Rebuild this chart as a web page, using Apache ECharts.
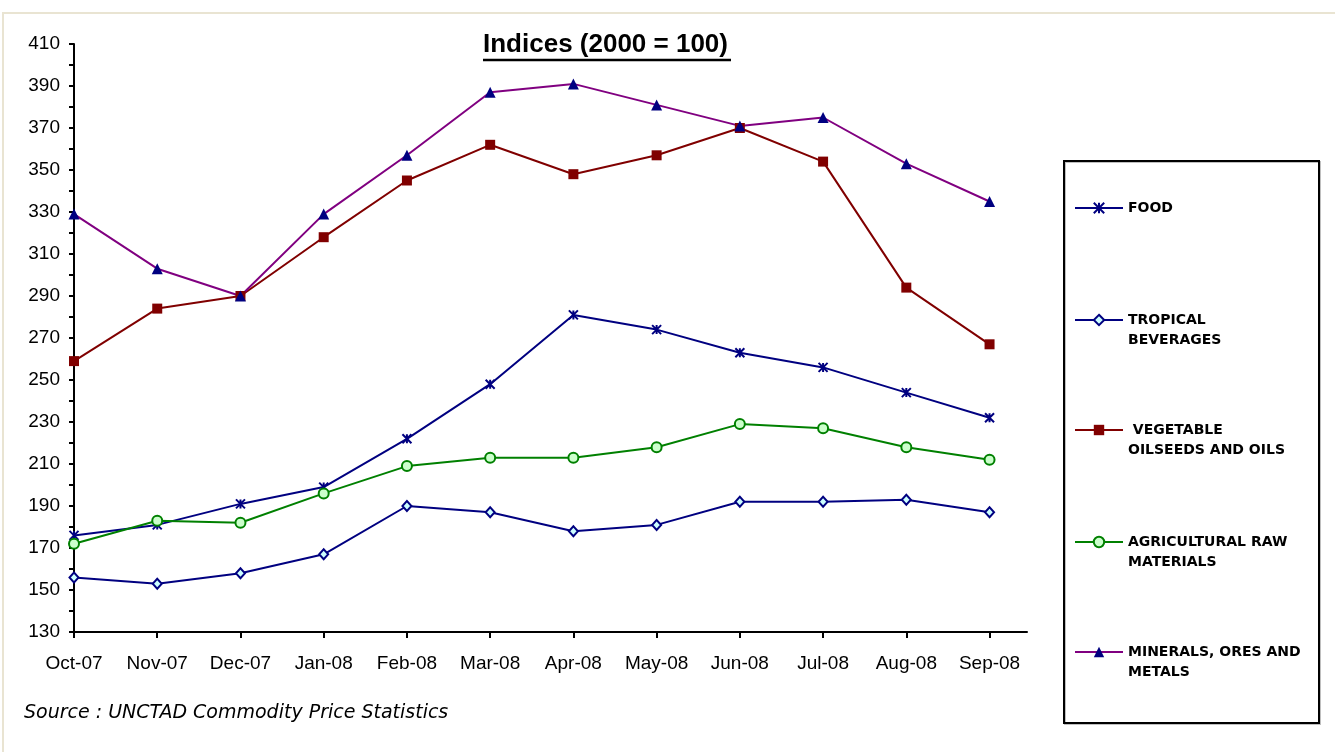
<!DOCTYPE html>
<html>
<head>
<meta charset="utf-8">
<title>Indices (2000 = 100)</title>
<script src="https://cdn.jsdelivr.net/npm/echarts@6/dist/echarts.min.js"></script>
<style>
  html, body { margin: 0; padding: 0; background: #fff; }
  #chart { width: 1335px; height: 756px; }
</style>
</head>
<body>
<div id="chart"></div>
<script>
// months on the x axis
const months = ['Oct-07', 'Nov-07', 'Dec-07', 'Jan-08', 'Feb-08', 'Mar-08',
  'Apr-08', 'May-08', 'Jun-08', 'Jul-08', 'Aug-08', 'Sep-08']

// index values
const food = [176, 181, 191, 199, 222, 248, 281, 274, 263, 256, 244, 232]
const tropical = [156, 153, 158, 167, 190, 187, 178, 181, 192, 192, 193, 187]
const vegOils = [259, 284, 290, 318, 345, 362, 348, 357, 370, 354, 294, 267]
const agriRaw = [172, 183, 182, 196, 209, 213, 213, 218, 229, 227, 218, 212]
const minerals = [329, 303, 290, 329, 357, 387, 391, 381, 371, 375, 353, 335]

const yTicks = [130, 150, 170, 190, 210, 230, 250, 270, 290, 310, 330, 350, 370, 390, 410]

const names = ['FOOD', 'TROPICAL\nBEVERAGES', ' VEGETABLE\nOILSEEDS AND OILS',
  'AGRICULTURAL RAW\nMATERIALS', 'MINERALS, ORES AND\nMETALS']

const toPoints = arr => arr.map((v, i) => [i, v])
const idx = months.map((m, i) => i)

const chart = echarts.init(document.getElementById('chart'))

// one legend per item so each can sit at its own height in the box
const legendBase = {
  orient: 'vertical',
  left: 1074,
  padding: 0,
  itemWidth: 48,
  itemHeight: 13,
  selectedMode: false,
  // extra blank line first so the icon lines up with the first text line
  formatter: name => (name.indexOf('\n') >= 0 ? '\n' + name : name),
  textStyle: {
    fontFamily: 'DejaVu Sans',
    fontWeight: 'bold',
    fontSize: 14,
    lineHeight: 20,
    color: '#000'
  }
}

const option = {
  animation: false,
  backgroundColor: '#fff',
  title: {
    text: 'Indices (2000 = 100)',
    left: 483,
    top: 32,
    padding: 0,
    textStyle: {
      fontFamily: 'Liberation Sans',
      fontWeight: 'bold',
      fontSize: 26,
      color: '#000'
    }
  },
  legend: [
    Object.assign({}, legendBase, { data: [names[0]], top: 198 }),
    Object.assign({}, legendBase, { data: [names[1]], top: 290 }),
    Object.assign({}, legendBase, { data: [names[2]], top: 400 }),
    Object.assign({}, legendBase, { data: [names[3]], top: 512 }),
    Object.assign({}, legendBase, { data: [names[4]], top: 622 })
  ],
  grid: {
    left: 74,
    right: 308,
    top: 44,
    bottom: 124
  },
  xAxis: {
    type: 'value',
    min: 0,
    max: 11.45,
    splitLine: { show: false },
    axisLine: { lineStyle: { color: '#000', width: 2 } },
    axisTick: {
      customValues: idx,
      length: 6,
      lineStyle: { color: '#000', width: 2 }
    },
    axisLabel: {
      customValues: idx,
      formatter: v => months[v] || '',
      margin: 22,
      color: '#000',
      fontFamily: 'Liberation Sans',
      fontSize: 19
    }
  },
  yAxis: {
    type: 'value',
    min: yTicks[0],
    max: yTicks[yTicks.length - 1],
    interval: 20,
    splitLine: { show: false },
    axisLine: { show: true, lineStyle: { color: '#000', width: 2 } },
    axisTick: { show: true, length: 5, lineStyle: { color: '#000', width: 2 } },
    minorTick: { show: true, splitNumber: 2, length: 5, lineStyle: { color: '#000', width: 2 } },
    axisLabel: {
      margin: 14,
      color: '#000',
      fontFamily: 'Liberation Sans',
      fontSize: 19
    }
  },
  series: [
    {
      name: names[0],
      type: 'line',
      data: toPoints(food),
      symbol: 'path://M0,0L10,10M10,0L0,10M5,0L5,10',
      symbolSize: 9,
      lineStyle: { color: '#000080', width: 2 },
      itemStyle: { color: '#000080', borderColor: '#000080', borderWidth: 2 }
    },
    {
      name: names[1],
      type: 'line',
      data: toPoints(tropical),
      symbol: 'diamond',
      symbolSize: [9, 10],
      lineStyle: { color: '#000080', width: 2 },
      itemStyle: { color: '#CCFFFF', borderColor: '#000080', borderWidth: 2 }
    },
    {
      name: names[2],
      type: 'line',
      data: toPoints(vegOils),
      symbol: 'rect',
      symbolSize: 10,
      lineStyle: { color: '#800000', width: 2 },
      itemStyle: { color: '#800000', borderColor: '#800000', borderWidth: 0 }
    },
    {
      name: names[3],
      type: 'line',
      data: toPoints(agriRaw),
      symbol: 'circle',
      symbolSize: 10,
      lineStyle: { color: '#008000', width: 2 },
      itemStyle: { color: '#CCFFCC', borderColor: '#008000', borderWidth: 2 }
    },
    {
      name: names[4],
      type: 'line',
      data: toPoints(minerals),
      symbol: 'triangle',
      symbolSize: 11,
      lineStyle: { color: '#800080', width: 2 },
      itemStyle: { color: '#000080', borderColor: '#000080', borderWidth: 0 }
    }
  ],
  graphic: [
    // beige frame round the sheet
    { type: 'rect', shape: { x: 2, y: 12, width: 1333, height: 2 }, style: { fill: '#E9E4D2' }, silent: true },
    { type: 'rect', shape: { x: 2, y: 12, width: 2, height: 740 }, style: { fill: '#E9E4D2' }, silent: true },
    // title underline
    { type: 'line', shape: { x1: 483, y1: 60, x2: 731, y2: 60 }, style: { stroke: '#000', lineWidth: 2.5 }, silent: true },
    // legend box
    { type: 'rect', z: -1, shape: { x: 1064, y: 161, width: 255, height: 562 },
      style: { fill: '#fff', stroke: '#000', lineWidth: 2, shadowColor: 'rgba(0,0,0,0.25)', shadowOffsetX: 1, shadowOffsetY: 1 }, silent: true },
    // source note
    { type: 'text', left: 24, top: 704,
      style: { text: 'Source : UNCTAD Commodity Price Statistics', fill: '#000',
        font: 'italic 19px "DejaVu Sans"' }, silent: true }
  ]
}

chart.setOption(option)
</script>
</body>
</html>
